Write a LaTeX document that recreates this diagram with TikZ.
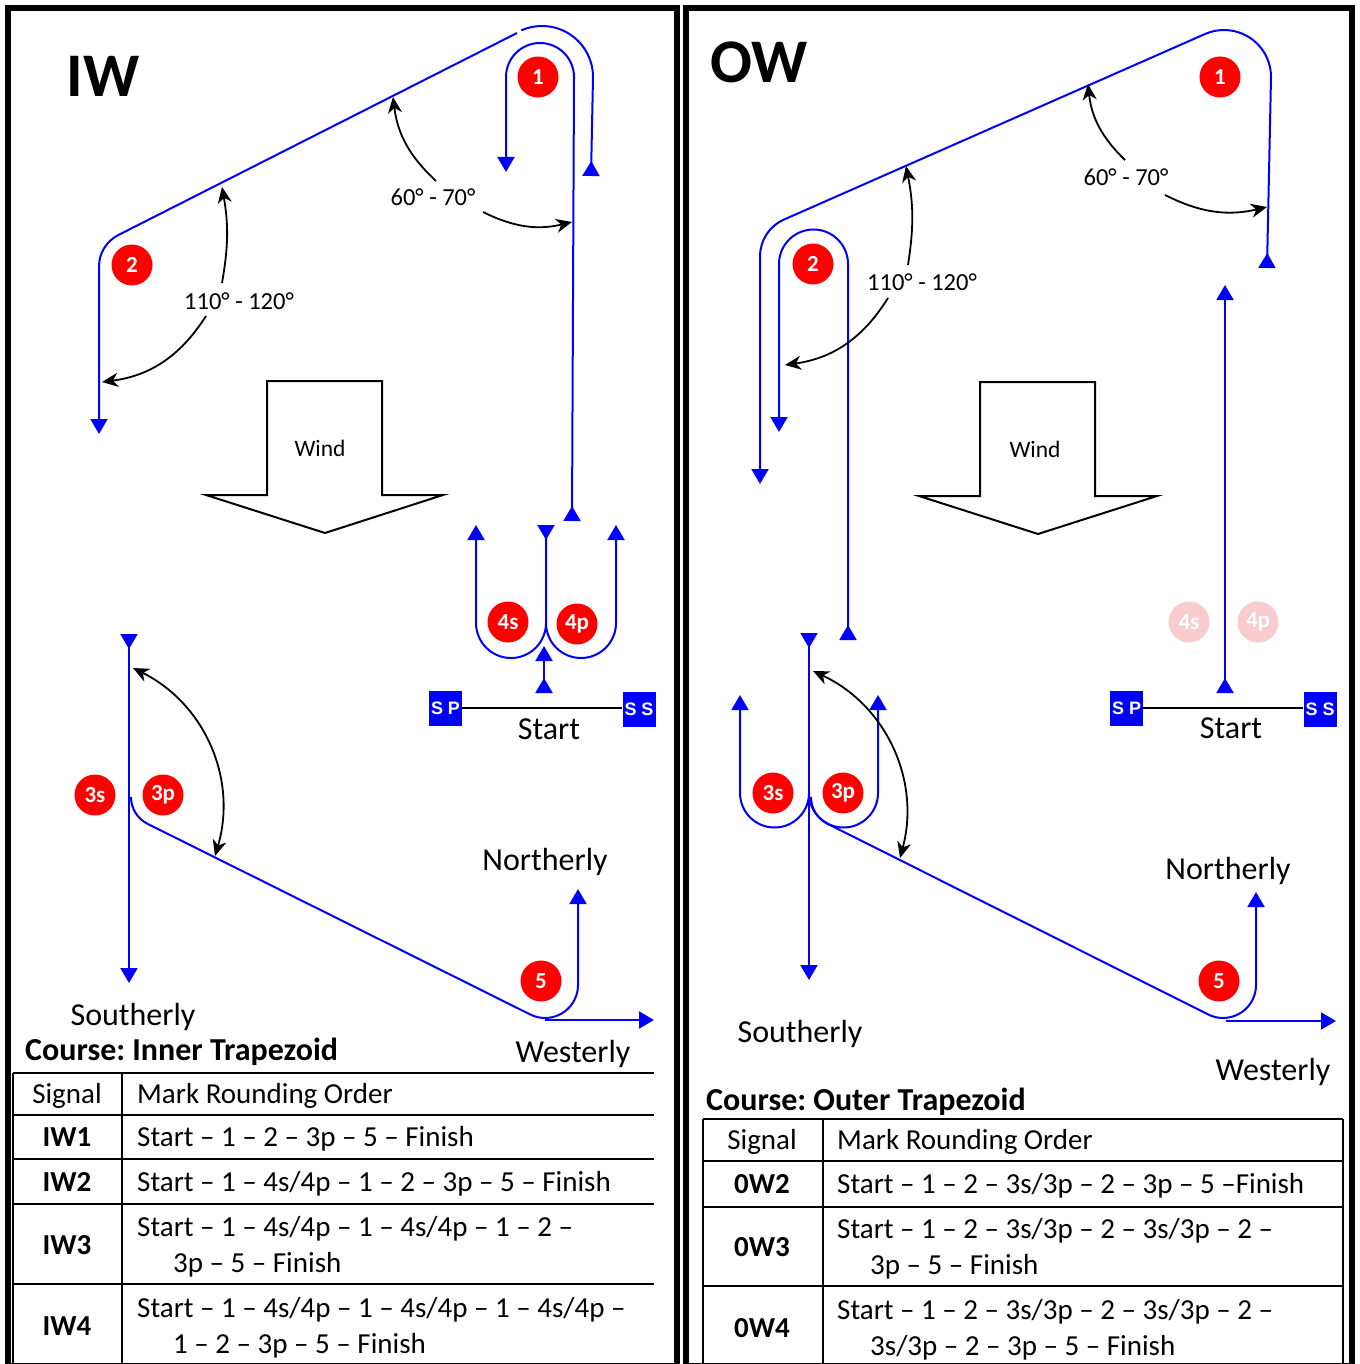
\documentclass[tikz,border=0pt]{standalone}
\usepackage{fontspec}
\setmainfont{Carlito}
\newfontfamily\arialf{Liberation Sans}
\usetikzlibrary{arrows.meta}
\definecolor{fadedred}{RGB}{248,204,204}
\frenchspacing
\tikzset{
  btri/.tip={Triangle[length=15pt,width=17pt]},
  brtri/.tip={Triangle[reversed,length=15pt,width=17pt]},
  bstl/.tip={Stealth[length=16pt,width=14pt,inset=5pt]},
  course/.style={draw=blue, line width=2pt},
  ang/.style={draw=black, line width=1.8pt},
  windshape/.style={draw=black, line width=2pt, line join=miter},
  buoy/.style={circle, fill=red, text=white, minimum size=41pt, inner sep=0pt, font=\bfseries\fontsize{23}{23}\selectfont},
  fadedbuoy/.style={buoy, fill=fadedred},
  sbox/.style={rectangle, fill=blue, text=white, minimum width=33pt, minimum height=35pt, inner sep=0pt, font=\arialf\bfseries\fontsize{18}{18}\selectfont},
  bigtitle/.style={anchor=base, inner sep=0pt, font=\bfseries\fontsize{62}{62}\selectfont},
  lbl/.style={anchor=base, inner sep=0pt, font=\fontsize{32}{32}\selectfont},
  angl/.style={anchor=base, inner sep=0pt, font=\fontsize{24.5}{24.5}\selectfont},
  windl/.style={anchor=base, inner sep=0pt, font=\fontsize{23.5}{23.5}\selectfont},
  coursel/.style={anchor=base west, inner sep=0pt, font=\bfseries\fontsize{32}{32}\selectfont},
  tabt/.style={anchor=base west, inner sep=0pt, font=\fontsize{29}{29}\selectfont},
  tabh/.style={anchor=base, inner sep=0pt, font=\fontsize{29}{29}\selectfont},
  tabs/.style={anchor=base, inner sep=0pt, font=\bfseries\fontsize{29}{29}\selectfont},
  rulel/.style={draw=black, line width=2.5pt},
  panel/.style={draw=black, line width=6pt}
}
\begin{document}
\begin{tikzpicture}[x=1pt,y=1pt]
\useasboundingbox (0,0) rectangle (1359,-1364);
\fill[white] (0,0) rectangle (1359,-1364);
% panels
\draw[panel] (8,-8) rectangle (677,-1366);
\draw[panel] (686,-8) rectangle (1352,-1366);

%================ IW =================
\node[bigtitle] (iwt) at (103,-97) {IW};
\node[buoy] (iw1) at (538,-77) {1};
\node[buoy] (iw2) at (132,-265) {2};
\node[buoy] (iw4s) at (508,-622) {4s};
\node[buoy] (iw4p) at (577,-624) {4p};
\node[buoy] (iw3s) at (95,-795) {3s};
\node[buoy] (iw3p) at (163,-795) {3p};
\node[buoy] (iw5) at (541,-981) {5};

% courses
\draw[course, brtri-btri] (572,-521) -- (574,-77) arc[start angle=0,end angle=180,radius=34] -- (506,-172);
\draw[course, brtri-] (591,-176) -- (593,-77) arc[start angle=0,end angle=114,radius=51];
\draw[course, -btri] (517,-33) -- (118.2,-235.1) arc[start angle=116.9,end angle=180,radius=35] -- (99,-434);
\draw[course, brtri-btri] (546,-525) -- (546,-623) arc[start angle=0,end angle=-180,radius=35] -- (476,-525);
\draw[course, -btri] (546,-623) arc[start angle=180,end angle=360,radius=35] -- (616,-525);
\draw[course, brtri-btri] (544,-693) -- (544,-646);
\draw[course, brtri-btri] (129,-634) -- (129,-983);
\draw[course, -btri] (131,-797) arc[start angle=180,end angle=243.9,radius=30] -- (530.5,-1014.6) arc[start angle=-116.1,end angle=0,radius=33] -- (578,-889);
\draw[course, -btri] (545,-1020) -- (654,-1020);

% start line
\node[sbox] (iwsp) at (445.5,-708) {S P};
\node[sbox] (iwss) at (639,-709.5) {S S};
\draw[line width=2pt] (iwsp.east) -- (iwsp.east -| iwss.west);
\node[lbl] (iwstart) at (549,-739) {Start};

% angles
\node[angl] (iwa1) at (433,-206) {60° - 70°};
\draw[ang,-bstl] (436,-181) to[bend left=20] (393,-97);
\draw[ang,-bstl] (483,-212) to[bend right=20] (572,-222);
\node[angl] (iwa2) at (239,-309) {110° - 120°};
\draw[ang,-bstl] (222,-283) to[bend right=10] (222,-187);
\draw[ang,-bstl] (206,-316) to[bend left=25] (102,-382);
\draw[ang,bstl-bstl] (133,-668) to[bend left=40] (215,-856);

% wind
\draw[windshape] (267,-381) -- (382,-381) -- (382,-495) -- (443,-495) -- (325,-533) -- (206,-495) -- (267,-495) -- cycle;
\node[windl] (iwwind) at (320,-456) {Wind};

% labels
\node[lbl] (iwnorth) at (545,-870) {Northerly};
\node[lbl] (iwsouth) at (133,-1025) {Southerly};
\node[lbl] (iwwest) at (573,-1062) {Westerly};
\node[coursel] (iwcourse) at (25,-1060) {Course: Inner Trapezoid};

% table IW
\draw[rulel] (13,-1073) -- (654,-1073);
\draw[rulel] (13,-1115) -- (654,-1115);
\draw[rulel] (13,-1159) -- (654,-1159);
\draw[rulel] (13,-1204) -- (654,-1204);
\draw[rulel] (13,-1284) -- (654,-1284);
\draw[rulel] (13,-1073) -- (13,-1366);
\draw[rulel] (122,-1073) -- (122,-1366);
\node[tabh] (iwh1) at (67,-1103) {Signal};
\node[tabt] (iwh2) at (137,-1103) {Mark Rounding Order};
\node[tabs] (iwr1) at (67,-1146) {IW1};
\node[tabt] (iwr1t) at (137,-1146) {Start – 1 – 2 – 3p – 5 – Finish};
\node[tabs] (iwr2) at (67,-1191) {IW2};
\node[tabt] (iwr2t) at (137,-1191) {Start – 1 – 4s/4p – 1 – 2 – 3p – 5 – Finish};
\node[tabs] (iwr3) at (67,-1254) {IW3};
\node[tabt] (iwr3a) at (137,-1236) {Start – 1 – 4s/4p – 1 – 4s/4p – 1 – 2 –};
\node[tabt] (iwr3b) at (173,-1272) {3p – 5 – Finish};
\node[tabs] (iwr4) at (67,-1335) {IW4};
\node[tabt] (iwr4a) at (137,-1317) {Start – 1 – 4s/4p – 1 – 4s/4p – 1 – 4s/4p –};
\node[tabt] (iwr4b) at (173,-1353) {1 – 2 – 3p – 5 – Finish};

%================ OW =================
\node[bigtitle] (owt) at (759,-83) {OW};
\node[buoy] (ow1) at (1220,-77) {1};
\node[buoy] (ow2) at (813,-264) {2};
\node[fadedbuoy] (ow4s) at (1189,-622) {4s};
\node[fadedbuoy] (ow4p) at (1258,-622) {4p};
\node[buoy] (ow3s) at (773,-793) {3s};
\node[buoy] (ow3p) at (843,-793) {3p};
\node[buoy] (ow5) at (1219,-981) {5};

% courses
\draw[course, brtri-btri] (1267,-268) -- (1271,-77) arc[start angle=0,end angle=113.8,radius=47] -- (783.9,-219.6) arc[start angle=113.8,end angle=180,radius=40] -- (760,-484);
\draw[course, brtri-btri] (848,-640) -- (848,-264) arc[start angle=0,end angle=180,radius=34.5] -- (779,-432);
\draw[course, brtri-btri] (1225,-693) -- (1225,-285);
\draw[course, brtri-btri] (809,-633) -- (809,-980);
\draw[course, -btri] (809,-793) arc[start angle=0,end angle=-180,radius=34.5] -- (740,-695);
\draw[course, -btri] (809,-793) arc[start angle=180,end angle=360,radius=34.5] -- (878,-695);
\draw[course, -btri] (811,-797) arc[start angle=180,end angle=243.9,radius=30] -- (1208.5,-1014.6) arc[start angle=-116.1,end angle=0,radius=33] -- (1256,-892);
\draw[course, -btri] (1226,-1021) -- (1336,-1021);

% start line
\node[sbox] (owsp) at (1126.5,-708) {S P};
\node[sbox] (owss) at (1320,-709.5) {S S};
\draw[line width=2pt] (owsp.east) -- (owsp.east -| owss.west);
\node[lbl] (owstart) at (1231,-738) {Start};

% angles
\node[angl] (owa1) at (1126,-186) {60° - 70°};
\draw[ang,-bstl] (1125,-160) to[bend left=20] (1088,-84);
\draw[ang,-bstl] (1165,-195) to[bend right=20] (1267,-207);
\node[angl] (owa2) at (922,-290) {110° - 120°};
\draw[ang,-bstl] (908,-265) to[bend right=10] (906,-166);
\draw[ang,-bstl] (888,-298) to[bend left=25] (785,-365);
\draw[ang,bstl-bstl] (813,-671) to[bend left=40] (900,-858);

% wind
\draw[windshape] (980,-382) -- (1095,-382) -- (1095,-496) -- (1157,-496) -- (1038,-534) -- (919,-496) -- (980,-496) -- cycle;
\node[windl] (owwind) at (1035,-457) {Wind};

% labels
\node[lbl] (ownorth) at (1228,-879) {Northerly};
\node[lbl] (owsouth) at (800,-1042) {Southerly};
\node[lbl] (owwest) at (1273,-1080) {Westerly};
\node[coursel] (owcourse) at (706,-1110) {Course: Outer Trapezoid};

% table OW
\draw[rulel] (703,-1119) -- (1343,-1119);
\draw[rulel] (703,-1161) -- (1343,-1161);
\draw[rulel] (703,-1207) -- (1343,-1207);
\draw[rulel] (703,-1286) -- (1343,-1286);
\draw[rulel] (703,-1119) -- (703,-1366);
\draw[rulel] (823,-1119) -- (823,-1366);
\draw[rulel] (1343,-1119) -- (1343,-1366);
\node[tabh] (owh1) at (762,-1149) {Signal};
\node[tabt] (owh2) at (837,-1149) {Mark Rounding Order};
\node[tabs] (owr2) at (762,-1193) {0W2};
\node[tabt] (owr2t) at (837,-1193) {Start – 1 – 2 – 3s/3p – 2 – 3p – 5 –Finish};
\node[tabs] (owr3) at (762,-1256) {0W3};
\node[tabt] (owr3a) at (837,-1238) {Start – 1 – 2 – 3s/3p – 2 – 3s/3p – 2 –};
\node[tabt] (owr3b) at (870,-1274) {3p – 5 – Finish};
\node[tabs] (owr4) at (762,-1337) {0W4};
\node[tabt] (owr4a) at (837,-1319) {Start – 1 – 2 – 3s/3p – 2 – 3s/3p – 2 –};
\node[tabt] (owr4b) at (870,-1355) {3s/3p – 2 – 3p – 5 – Finish};
\end{tikzpicture}
\end{document}
